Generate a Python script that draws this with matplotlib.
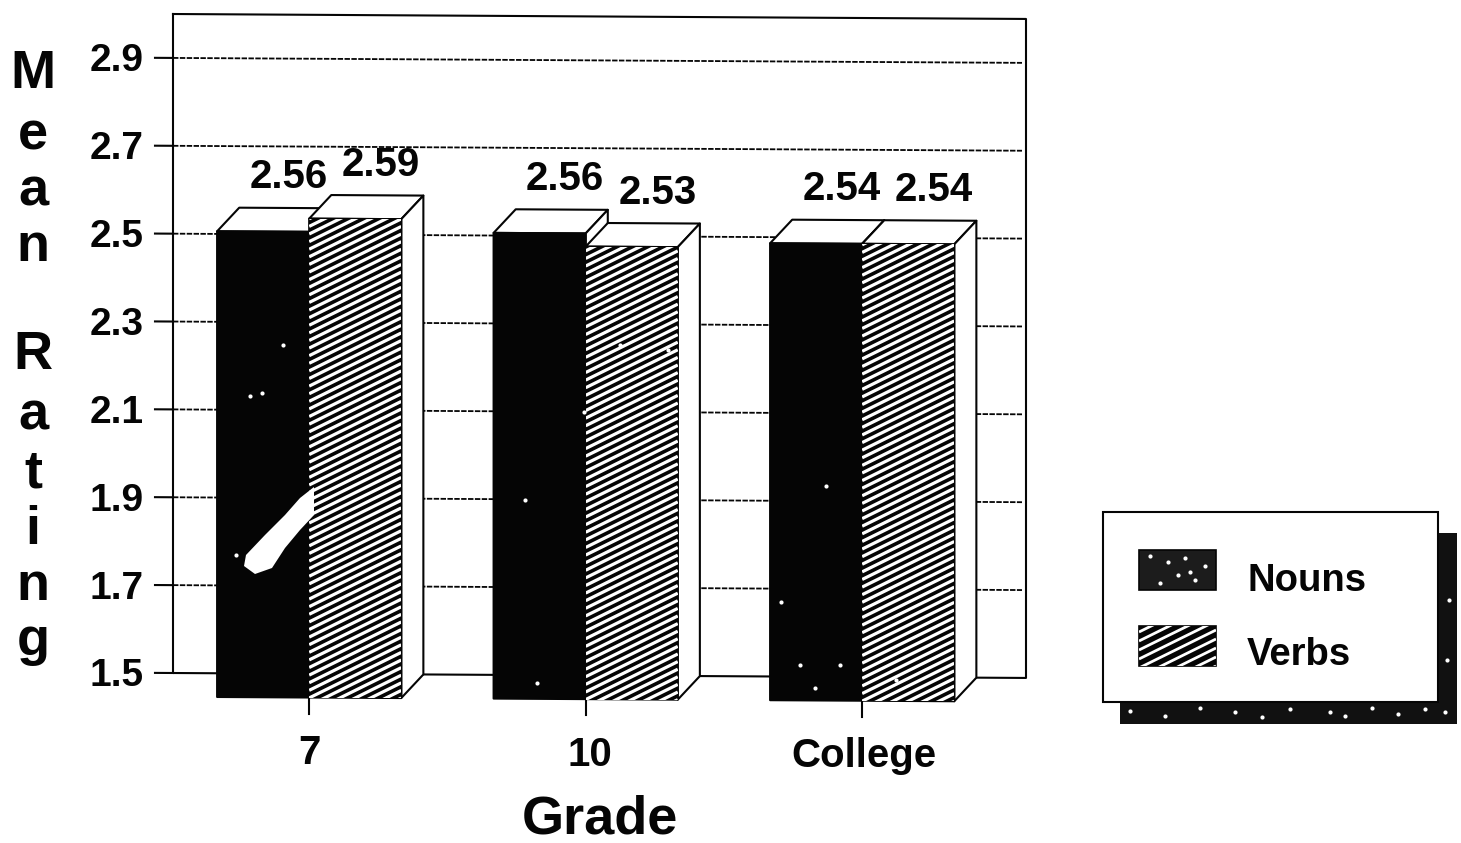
import numpy as np
import matplotlib
matplotlib.use('Agg')
import matplotlib.pyplot as plt
from matplotlib.collections import LineCollection
from matplotlib.patches import Rectangle, Polygon
from matplotlib.transforms import Affine2D

plt.rcParams['font.family'] = ['Liberation Sans', 'DejaVu Sans']
plt.rcParams['font.weight'] = 'bold'

# Данные
grades = ['7', '10', 'College']
nouns = [2.56, 2.56, 2.54]
verbs = [2.59, 2.53, 2.54]
y_ticks = [1.5, 1.7, 1.9, 2.1, 2.3, 2.5, 2.7, 2.9]
y_tick_labels = ['1.5', '1.7', '1.9', '2.1', '2.3', '2.5', '2.7', '2.9']
legend_names = ['Nouns', 'Verbs']

W, H = 1461, 843
INK = '#050505'
BAR_W = 0.333
DX, DY = 0.08, 0.054   # глубина псевдо-3D
PX_X, PX_Y = 1 / 276.5, 1 / 439.0

fig = plt.figure(figsize=(W / 100, H / 100), dpi=100, facecolor='white')
ax = fig.add_axes([173 / W, (H - 673) / H, 853 / W, 659 / H])
ax.set_xlim(-0.4925, 2.5925)
ax.set_ylim(1.5, 3.0)
ax.axis('off')

# Скан слегка повёрнут
shear = Affine2D.from_values(1, -0.0058, 0, 1, 0, 0.0058 * 173)
tilted = ax.transData + shear


def line(xs, ys, lw=1.5, z=1, **kw):
    ax.plot(xs, ys, color=INK, lw=lw, transform=tilted, clip_on=False, zorder=z, **kw)


def draw_bar(x0, value, z, striped):
    x1 = x0 + BAR_W
    top = value - DY
    bottom = 1.5 - DY
    outline = dict(edgecolor=INK, lw=1.5, transform=tilted, clip_on=False, zorder=z, joinstyle='round')
    # верх и правая грань
    ax.fill([x0, x0 + DX, x1 + DX, x1], [top, value, value, top], facecolor='white', **outline)
    ax.fill([x1, x1 + DX, x1 + DX, x1], [top, value, 1.5, bottom], facecolor='white', **outline)
    ax.bar(x0, value - 1.5, bottom=bottom, width=BAR_W, align='edge', facecolor=INK, **outline)
    if striped:
        clip = Rectangle((x0, bottom), BAR_W, top - bottom, transform=tilted)
        rise = BAR_W * 276.5 * 0.5 * PX_Y
        starts = np.arange(bottom - rise, top, 7.6 * PX_Y)
        segs = [[(x0, s), (x1, s + rise)] for s in starts]
        lc = LineCollection(segs, colors='white', linewidths=2.3, transform=tilted, zorder=z + 0.1)
        ax.add_collection(lc, autolim=False)
        lc.set_clip_path(clip)


# Сетка и рамка
for t in y_ticks[1:]:
    line([-0.4925, 2.578], [t, t], lw=1.3, z=1, linestyle=(0, (3.0, 0.8)))
line([-0.4925, 2.5925, 2.5925, -0.4925, -0.4925], [3.0, 3.0, 1.5, 1.5, 3.0], z=1)

# Столбцы: глаголы поверх существительных
for i in range(len(grades)):
    draw_bar(i - BAR_W, nouns[i], 3 + i, False)
    draw_bar(i, verbs[i], 3.5 + i, True)

# Подписи значений
for i in range(len(grades)):
    for x0, v in ((i - BAR_W, nouns[i]), (i, verbs[i])):
        ax.annotate(f'{v:.2f}', (x0 + BAR_W / 2 + DX, v), xycoords=tilted, xytext=(2.5, 22),
                    textcoords='offset points', ha='center', va='center', fontsize=29,
                    color=INK, zorder=10, annotation_clip=False)

# Деления и подписи осей
for t, lab in zip(y_ticks, y_tick_labels):
    line([-0.4925 - 18 * PX_X, -0.4925], [t, t], z=2)
    ax.annotate(lab, (-0.4925, t), xycoords=tilted, xytext=(-21, -2.5), textcoords='offset points',
                ha='right', va='center', fontsize=28, color=INK, annotation_clip=False)
for i, (g, shift) in enumerate(zip(grades, [0, 3, 1.5])):
    line([i, i], [1.5 - DY, 1.5 - DY - 16 * PX_Y], z=2)
    ax.annotate(g, (i, 1.5), xycoords=tilted, xytext=(shift, -57), textcoords='offset points',
                ha='center', va='center', fontsize=29, color=INK, annotation_clip=False)

# Верхний слой в пикселях: заголовки, легенда, дефекты скана
ov = fig.add_axes([0, 0, 1, 1], zorder=20)
ov.set_xlim(0, W)
ov.set_ylim(H, 0)
ov.axis('off')
ov.patch.set_alpha(0)

ov.text(600, 820, 'Grade', ha='center', va='center', fontsize=39, color=INK)
for ch, py in zip('MeanRating', [74, 136, 191, 247, 355, 416, 473, 530, 586, 641]):
    ov.text(33, py, ch, ha='center', va='center', fontsize=39, color=INK)

# Легенда
ov.add_patch(Rectangle((1120, 533), 337, 191, facecolor='#111111', edgecolor='none'))
ov.add_patch(Rectangle((1103, 512), 335, 190, facecolor='white', edgecolor=INK, lw=1.5))
ov.add_patch(Rectangle((1139, 550), 77, 40, facecolor='#1c1c1c', edgecolor=INK, lw=1.2))
ov.add_patch(Rectangle((1139, 626), 77, 40, facecolor=INK, edgecolor=INK, lw=1.2))
clip = Rectangle((1139, 626), 77, 40, transform=ov.transData)
segs = [[(1139, s), (1216, s - 38)] for s in np.arange(632, 712, 9.0)]
lc = LineCollection(segs, colors='white', linewidths=2.0)
ov.add_collection(lc, autolim=False)
lc.set_clip_path(clip)
ov.text(1247, 581, legend_names[0], ha='left', va='center', fontsize=27.5, color=INK)
ov.text(1247, 655, legend_names[1], ha='left', va='center', fontsize=27.5, color=INK)

# Белое пятно на первом столбце и мелкие точки
ov.add_patch(Polygon([(314, 487), (314, 515), (300, 530), (285, 548), (272, 568), (255, 574),
                      (244, 566), (246, 555), (265, 535), (285, 515), (300, 498)],
                     closed=True, facecolor='white', edgecolor='none'))
specks_x = [283, 250, 262, 236, 525, 584, 668, 781, 800, 840, 815, 537, 826, 896, 620,
            1150, 1168, 1178, 1185, 1195, 1205, 1160, 1190, 1130, 1165, 1200, 1235, 1262, 1290,
            1330, 1345, 1372, 1398, 1425, 1445, 1447, 1449]
specks_y = [345, 396, 393, 555, 500, 412, 350, 602, 665, 665, 688, 683, 486, 680, 345,
            556, 562, 575, 558, 580, 566, 583, 572, 711, 716, 708, 712, 717, 709,
            712, 716, 708, 714, 709, 712, 660, 600]
ov.scatter(specks_x, specks_y, s=9, color='white', linewidths=0)

fig.savefig('out.png', dpi=100, facecolor='white')
plt.close(fig)
